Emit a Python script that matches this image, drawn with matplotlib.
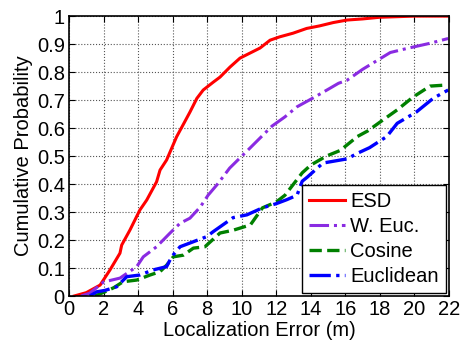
import matplotlib
matplotlib.use('Agg')
import matplotlib.pyplot as plt

# ESD
esd_x = [0.3, 1.0, 1.8, 2.37, 2.95, 3.05, 3.53, 4.1, 4.5, 5.07, 5.27, 5.65, 6.23, 6.66, 7.0, 7.4,
         7.77, 8.35, 8.74, 9.32, 9.9, 10.48, 11.06, 11.64, 12.2, 12.97, 13.76, 14.5, 15.3, 16.1,
         17.0, 18.0, 19.0, 20.0, 22.0]
esd_y = [0.0, 0.012, 0.039, 0.093, 0.153, 0.182, 0.236, 0.307, 0.343, 0.408, 0.45, 0.486, 0.569,
         0.618, 0.657, 0.706, 0.736, 0.764, 0.782, 0.818, 0.85, 0.868, 0.886, 0.914, 0.926, 0.939,
         0.956, 0.965, 0.977, 0.986, 0.99, 0.996, 0.998, 1.0, 1.0]

# W. Euc.
weuc_x = [0.7, 1.2, 2.0, 2.95, 3.92, 4.3, 5.07, 5.85, 6.43, 7.0, 7.6, 8.05, 8.6, 9.3, 10.5,
          11.75, 12.5, 13.2, 14.2, 15.1, 15.6, 16.1, 17.0, 17.8, 18.6, 19.6, 20.9, 21.95]
weuc_y = [0.0, 0.01, 0.05, 0.064, 0.105, 0.14, 0.176, 0.225, 0.26, 0.278, 0.318, 0.36, 0.40,
          0.457, 0.53, 0.607, 0.64, 0.676, 0.71, 0.742, 0.76, 0.771, 0.81, 0.84, 0.87, 0.885,
          0.903, 0.92]

# Cosine
cos_x = [1.5, 2.08, 2.6, 3.13, 3.92, 4.69, 5.27, 5.65, 6.04, 6.62, 7.2, 7.87, 8.74, 9.5, 10.5,
         11.2, 12.0, 12.5, 13.0, 13.5, 14.0, 14.9, 15.7, 16.7, 17.3, 18.2, 19.0, 19.9, 20.9, 21.9]
cos_y = [0.0, 0.015, 0.03, 0.051, 0.057, 0.075, 0.087, 0.11, 0.14, 0.146, 0.171, 0.176, 0.225,
         0.235, 0.254, 0.315, 0.336, 0.36, 0.40, 0.44, 0.468, 0.50, 0.52, 0.57, 0.59, 0.63, 0.665,
         0.71, 0.75, 0.754]

# Euclidean
euc_x = [1.2, 1.6, 2.08, 2.76, 3.34, 4.1, 4.86, 5.65, 5.94, 6.43, 7.2, 7.97, 8.35, 9.5, 10.3,
         11.2, 12.0, 12.6, 13.2, 13.5, 13.8, 14.7, 16.1, 16.7, 17.4, 18.4, 19.0, 20.1, 21.1, 21.95]
euc_y = [0.0, 0.015, 0.02, 0.033, 0.069, 0.075, 0.093, 0.105, 0.14, 0.176, 0.194, 0.212, 0.23,
         0.28, 0.29, 0.315, 0.33, 0.344, 0.36, 0.41, 0.425, 0.475, 0.49, 0.51, 0.53, 0.57, 0.617,
         0.657, 0.707, 0.736]

plt.rcParams['font.family'] = ['Liberation Sans', 'DejaVu Sans']
plt.rcParams['font.size'] = 14.5

f = plt.figure(figsize=(4.61, 3.43), dpi=100)
ax1 = f.add_axes([0.1497, 0.137, 0.8243, 0.816])

ax1.plot(esd_x, esd_y, color='#ff0000', ls='-', lw=2.2, label='ESD')
ax1.plot(weuc_x, weuc_y, color='#8a2be2', ls='-.', lw=2.2, label='W. Euc.')
ax1.plot(cos_x, cos_y, color='#008000', ls='--', lw=2.4, label='Cosine')
ax1.plot(euc_x, euc_y, color='#0000ff', ls='-.', lw=2.4, label='Euclidean')

ax1.set_xlim(0, 22)
ax1.set_ylim(0, 1)
ax1.set_xticks(range(0, 23, 2))
ax1.set_yticks([i / 10 for i in range(11)])
ax1.set_yticklabels(['0', '0.1', '0.2', '0.3', '0.4', '0.5', '0.6', '0.7', '0.8', '0.9', '1'])
ax1.tick_params(direction='in', length=4, width=0.8, top=True, right=True, pad=3)
ax1.grid(True, ls=':', color='#555555', lw=0.8)
for s in ax1.spines.values():
    s.set_linewidth(1.2)

leg = ax1.legend(loc='lower right', fancybox=False, edgecolor='k', framealpha=1,
                 borderpad=0.35, labelspacing=0.3, handlelength=1.8, handletextpad=0.25,
                 borderaxespad=0.15)
leg.get_frame().set_linewidth(1.0)

ax1.set_xlabel('Localization Error (m)', labelpad=1)
ax1.set_ylabel('Cumulative Probability', labelpad=3)

f.savefig('out.png', dpi=100)
